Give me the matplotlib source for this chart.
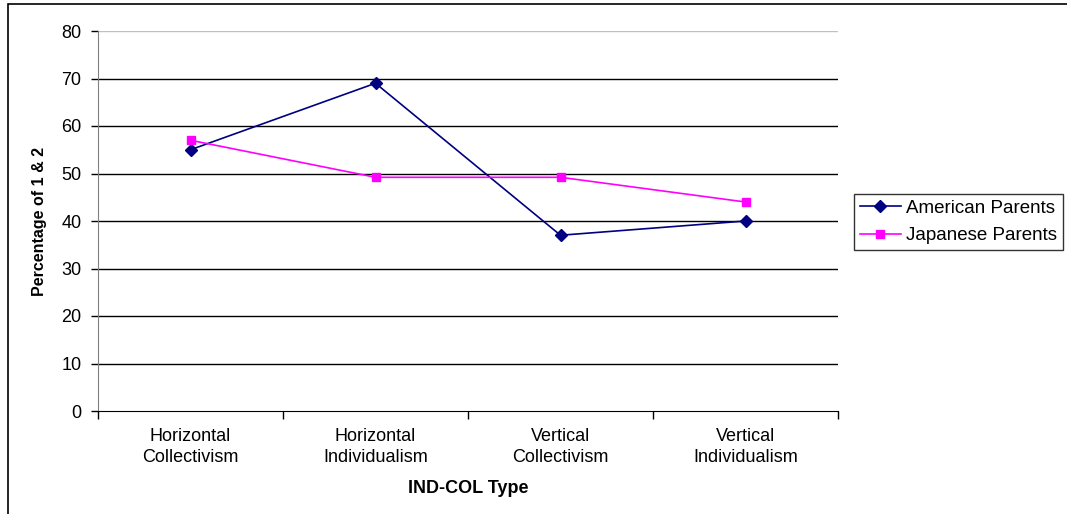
import matplotlib
matplotlib.use("Agg")
import matplotlib.pyplot as plt
from matplotlib.patches import Rectangle

plt.rcParams['font.family'] = ['Liberation Sans', 'DejaVu Sans']

categories = ["Horizontal\nCollectivism", "Horizontal\nIndividualism",
              "Vertical\nCollectivism", "Vertical\nIndividualism"]
american = [55, 69, 37, 40]
japanese = [57, 49.2, 49.2, 44]
yticks = [0, 10, 20, 30, 40, 50, 60, 70, 80]

W, H = 1067, 514
fig = plt.figure(figsize=(W / 100, H / 100), dpi=100)

# outer chart frame
fig.patches.append(Rectangle((8 / W, -0.01), 1.1, (H - 4) / H + 0.01,
                             transform=fig.transFigure, fill=False,
                             edgecolor='black', linewidth=1.2))

ax = fig.add_axes([98 / W, (H - 411) / H, 740 / W, 380 / H])
x = list(range(len(categories)))
ax.plot(x, american, color='#000080', marker='D', markersize=6.5,
        linewidth=1.2, label='American Parents')
ax.plot(x, japanese, color='#FF00FF', marker='s', markersize=6,
        linewidth=1.2, label='Japanese Parents')

ax.set_xlim(-0.5, len(categories) - 0.5)
ax.set_ylim(0, 80)
ax.set_yticks(yticks)
ax.tick_params(axis='y', labelsize=13, length=5, width=1, direction='out', pad=7)
ax.set_xticks(x)
ax.set_xticklabels(categories, fontsize=13, linespacing=1.35)
ax.tick_params(axis='x', length=0, pad=12)
ax.set_xticks([i - 0.5 for i in range(len(categories) + 1)], minor=True)
ax.tick_params(axis='x', which='minor', length=6, width=1, direction='out')

for v in yticks[1:]:
    ax.axhline(v, color='#C0C0C0' if v == 80 else 'black', linewidth=1, zorder=0)

for side in ['top', 'right']:
    ax.spines[side].set_visible(False)
ax.spines['left'].set_color('#808080')
ax.spines['bottom'].set_color('black')

ax.set_ylabel('Percentage of 1 & 2', fontsize=11.5, fontweight='bold', labelpad=10)
ax.set_xlabel('IND-COL Type', fontsize=13, fontweight='bold', labelpad=10)

leg = ax.legend(loc='upper left', bbox_to_anchor=(854 / W, (H - 194) / H),
                bbox_transform=fig.transFigure, frameon=True, fancybox=False,
                fontsize=13.5, borderpad=0.3, handlelength=2.2,
                handletextpad=0.28, labelspacing=0.55, borderaxespad=0,
                markerscale=0.9)
leg.get_frame().set_edgecolor('black')
leg.get_frame().set_linewidth(1)

fig.savefig('out.png', dpi=100)
